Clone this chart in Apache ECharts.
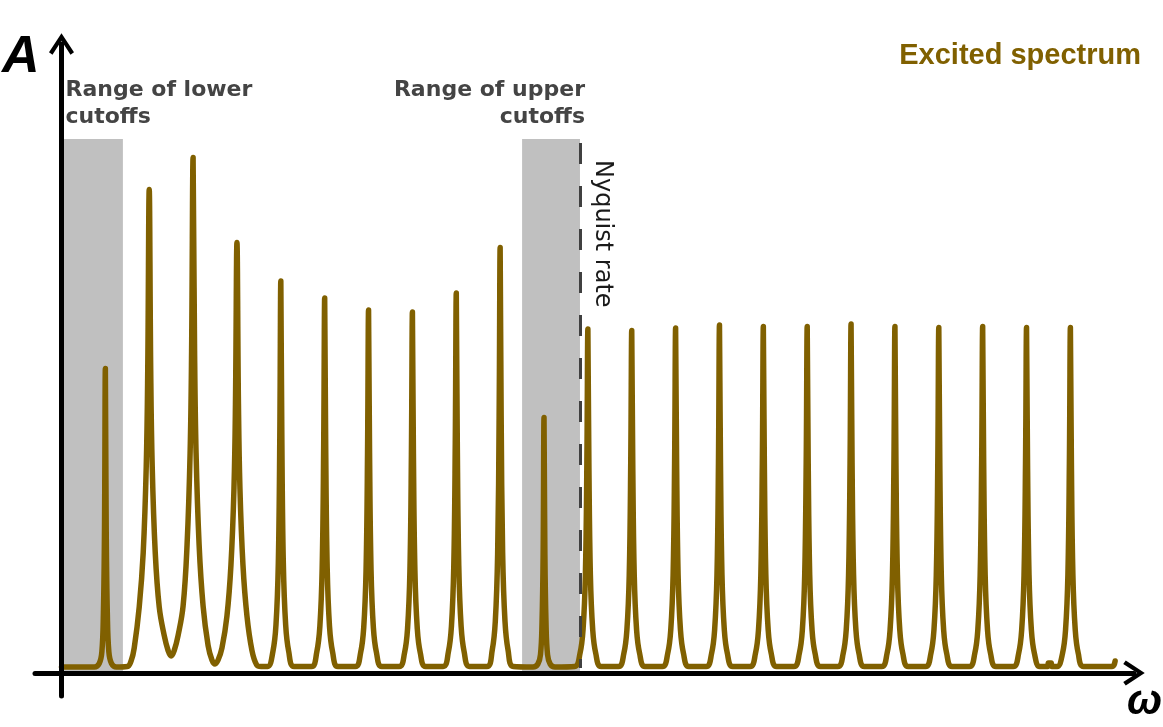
<!DOCTYPE html>
<html>
<head>
    <meta charset="utf-8">
    <title>Excited spectrum</title>
    <script src="https://cdn.jsdelivr.net/npm/echarts@6/dist/echarts.min.js"></script>
</head>
<body style="margin:0;background:#fff;">
    <div id="main" style="width:1163px;height:727px;"></div>
    <script type="text/javascript">
        // omega in units of the line spacing, A in arbitrary units (baseline ~1.2)
        const spectrum = [
            [0, 1.2], [0.75, 1.2],
            // 1 (narrow, inside the lower cutoff band)
            [0.86, 1.9], [0.92, 4.2], [0.955, 11.9], [0.98, 28.1], [1, 60.9], [1.02, 28.1], [1.045, 11.9], [1.08, 4.2], [1.14, 1.9], [1.25, 1.2],
            [1.50, 1.3],
            // 2
            [1.59, 2.5], [1.658, 5.0], [1.772, 13.2], [1.863, 24.1], [1.932, 41.3], [1.966, 60.4], [2, 96.7],
            [2.034, 60.4], [2.068, 41.3], [2.137, 24.1], [2.228, 13.2], [2.342, 7.5], [2.43, 4.5], [2.5, 3.4],
            // 3
            [2.57, 4.5], [2.658, 7.5], [2.772, 13.4], [2.863, 25.7], [2.932, 44.0], [2.966, 64.4], [3, 103.1],
            [3.034, 64.4], [3.068, 44.0], [3.137, 25.7], [3.228, 13.4], [3.342, 5.5], [3.43, 2.6], [3.5, 1.8],
            // 4
            [3.57, 2.6], [3.658, 5.0], [3.772, 11.4], [3.863, 21.6], [3.932, 36.9], [3.966, 53.8], [4, 86.1],
            [4.034, 53.8], [4.068, 36.9], [4.137, 21.6], [4.228, 11.4], [4.342, 4.5], [4.45, 1.6], [4.55, 1.3],
            // 5 - 10
            [4.70, 1.3], [4.82, 4.3], [4.89, 9.7], [4.943, 22.0], [4.977, 47.5], [5, 78.4], [5.023, 47.5], [5.057, 22.0], [5.11, 9.7], [5.18, 4.3], [5.30, 1.3],
            [5.70, 1.3], [5.82, 4.2], [5.89, 9.3], [5.943, 21.1], [5.977, 45.5], [6, 75.0], [6.023, 45.5], [6.057, 21.1], [6.11, 9.3], [6.18, 4.2], [6.30, 1.3],
            [6.70, 1.3], [6.82, 4.1], [6.89, 9.1], [6.943, 20.5], [6.977, 44.0], [7, 72.6], [7.023, 44.0], [7.057, 20.5], [7.11, 9.1], [7.18, 4.1], [7.30, 1.3],
            [7.70, 1.3], [7.82, 4.0], [7.89, 9.0], [7.943, 20.4], [7.977, 43.8], [8, 72.2], [8.023, 43.8], [8.057, 20.4], [8.11, 9.0], [8.18, 4.0], [8.30, 1.3],
            [8.70, 1.3], [8.82, 4.2], [8.89, 9.4], [8.943, 21.4], [8.977, 46.1], [9, 76.0], [9.023, 46.1], [9.057, 21.4], [9.11, 9.4], [9.18, 4.2], [9.30, 1.3],
            [9.70, 1.3], [9.82, 4.6], [9.89, 10.4], [9.943, 23.9], [9.977, 51.5], [10, 85.1], [10.023, 51.5], [10.057, 23.9], [10.11, 10.4], [10.18, 4.6], [10.30, 1.3],
            // 11 (narrow, inside the upper cutoff band)
            [10.75, 1.2], [10.86, 1.8], [10.92, 3.7], [10.955, 10.2], [10.98, 23.7], [11, 51.1], [11.02, 23.7], [11.045, 10.2], [11.08, 3.7], [11.14, 1.8], [11.25, 1.2],
            // 12 - 23 (above the Nyquist rate)
            [11.70, 1.3], [11.82, 3.9], [11.89, 8.7], [11.943, 19.6], [11.977, 42.0], [12, 68.8], [12.023, 42.0], [12.057, 19.6], [12.11, 8.7], [12.18, 3.9], [12.30, 1.3],
            [12.70, 1.3], [12.82, 3.9], [12.89, 8.7], [12.943, 19.6], [12.977, 42.0], [13, 68.5], [13.023, 42.0], [13.057, 19.6], [13.11, 8.7], [13.18, 3.9], [13.30, 1.3],
            [13.70, 1.3], [13.82, 3.9], [13.89, 8.7], [13.943, 19.6], [13.977, 42.0], [14, 69.0], [14.023, 42.0], [14.057, 19.6], [14.11, 8.7], [14.18, 3.9], [14.30, 1.3],
            [14.70, 1.3], [14.82, 3.9], [14.89, 8.7], [14.943, 19.6], [14.977, 42.0], [15, 69.6], [15.023, 42.0], [15.057, 19.6], [15.11, 8.7], [15.18, 3.9], [15.30, 1.3],
            [15.70, 1.3], [15.82, 3.9], [15.89, 8.7], [15.943, 19.6], [15.977, 42.0], [16, 69.3], [16.023, 42.0], [16.057, 19.6], [16.11, 8.7], [16.18, 3.9], [16.30, 1.3],
            [16.70, 1.3], [16.82, 3.9], [16.89, 8.7], [16.943, 19.6], [16.977, 42.0], [17, 69.3], [17.023, 42.0], [17.057, 19.6], [17.11, 8.7], [17.18, 3.9], [17.30, 1.3],
            [17.70, 1.3], [17.82, 3.9], [17.89, 8.7], [17.943, 19.6], [17.977, 42.0], [18, 69.8], [18.023, 42.0], [18.057, 19.6], [18.11, 8.7], [18.18, 3.9], [18.30, 1.3],
            [18.70, 1.3], [18.82, 3.9], [18.89, 8.7], [18.943, 19.6], [18.977, 42.0], [19, 69.3], [19.023, 42.0], [19.057, 19.6], [19.11, 8.7], [19.18, 3.9], [19.30, 1.3],
            [19.70, 1.3], [19.82, 3.9], [19.89, 8.7], [19.943, 19.6], [19.977, 42.0], [20, 69.1], [20.023, 42.0], [20.057, 19.6], [20.11, 8.7], [20.18, 3.9], [20.30, 1.3],
            [20.70, 1.3], [20.82, 3.9], [20.89, 8.7], [20.943, 19.6], [20.977, 42.0], [21, 69.3], [21.023, 42.0], [21.057, 19.6], [21.11, 8.7], [21.18, 3.9], [21.30, 1.3],
            [21.70, 1.3], [21.82, 3.9], [21.89, 8.7], [21.943, 19.6], [21.977, 42.0], [22, 69.1], [22.023, 42.0], [22.057, 19.6], [22.11, 8.7], [22.18, 3.9], [22.30, 1.3],
            [22.48, 1.3], [22.50, 2.0], [22.56, 2.0], [22.58, 1.3],
            [22.70, 1.3], [22.82, 3.9], [22.89, 8.7], [22.943, 19.6], [22.977, 42.0], [23, 69.1], [23.023, 42.0], [23.057, 19.6], [23.11, 8.7], [23.18, 3.9], [23.30, 1.3],
            [23.95, 1.3], [24.02, 2.4]
        ];

        const lowerCutoffs = [0, 1.40];
        const upperCutoffs = [10.50, 11.82];
        const nyquistRate = 11.82;
        const bandTop = 106.8;

        const brown = '#806000';
        // open chevron used as arrow head, pointing up
        const chevron = 'path://M12.5,0 L25,19 L21.5,21.5 L12.5,7.5 L3.5,21.5 L0,19 Z';

        var myChart = echarts.init(document.getElementById('main'));

        var option = {
            animation: false,
            backgroundColor: '#fff',
            title: {
                text: 'Excited spectrum',
                right: 22,
                top: 41,
                padding: 0,
                textStyle: {
                    color: brown,
                    fontFamily: 'Liberation Sans',
                    fontWeight: 'bold',
                    fontSize: 29
                }
            },
            grid: { left: 35, right: 29, top: 44, bottom: 31, outerBoundsMode: 'none' },
            xAxis: {
                type: 'value',
                min: -0.604,
                max: 24.45,
                z: 3,
                name: 'ω',
                nameLocation: 'end',
                nameGap: -7,
                nameTextStyle: {
                    fontFamily: 'Liberation Sans',
                    fontStyle: 'italic',
                    fontWeight: 'bold',
                    fontSize: 42,
                    color: '#000',
                    align: 'left',
                    verticalAlign: 'top',
                    padding: [8, 0, 0, 0]
                },
                axisLine: {
                    onZero: true,
                    symbol: ['none', chevron],
                    symbolSize: [25, 22],
                    lineStyle: { color: '#000', width: 5 }
                },
                axisTick: { show: false },
                axisLabel: { show: false },
                splitLine: { show: false }
            },
            yAxis: {
                type: 'value',
                min: -4.6,
                max: 125.8,
                z: 3,
                name: 'A',
                nameLocation: 'end',
                nameGap: 12,
                nameTextStyle: {
                    fontFamily: 'Liberation Sans',
                    fontStyle: 'italic',
                    fontWeight: 'bold',
                    fontSize: 52,
                    color: '#000',
                    align: 'right',
                    verticalAlign: 'top',
                    padding: [0, 22, 0, 0]
                },
                axisLine: {
                    onZero: true,
                    symbol: ['none', chevron],
                    symbolSize: [25, 22],
                    lineStyle: { color: '#000', width: 5 }
                },
                axisTick: { show: false },
                axisLabel: { show: false },
                splitLine: { show: false }
            },
            series: [{
                name: 'Excited spectrum',
                type: 'line',
                data: spectrum,
                symbol: 'none',
                showSymbol: false,
                smooth: 0.4,
                lineStyle: { color: brown, width: 5.5, join: 'round', cap: 'round' },
                z: 2,
                markArea: {
                    silent: true,
                    itemStyle: { color: '#c0c0c0', opacity: 1 },
                    label: {
                        fontFamily: 'DejaVu Sans',
                        fontWeight: 'bold',
                        fontSize: 22,
                        lineHeight: 27,
                        color: '#444'
                    },
                    data: [
                        [
                            {
                                xAxis: lowerCutoffs[0], yAxis: 0,
                                label: {
                                    formatter: 'Range of lower\ncutoffs',
                                    position: [4, -8],
                                    align: 'left',
                                    verticalAlign: 'bottom'
                                }
                            },
                            { xAxis: lowerCutoffs[1], yAxis: bandTop }
                        ],
                        [
                            {
                                xAxis: upperCutoffs[0], yAxis: 0,
                                label: {
                                    formatter: 'Range of upper\ncutoffs',
                                    position: ['100%', -8],
                                    offset: [5, 0],
                                    align: 'right',
                                    verticalAlign: 'bottom'
                                }
                            },
                            { xAxis: upperCutoffs[1], yAxis: bandTop }
                        ]
                    ]
                },
                markLine: {
                    silent: true,
                    symbol: ['none', 'none'],
                    lineStyle: { color: '#404040', width: 3, type: [21, 22] },
                    label: {
                        show: true,
                        formatter: 'Nyquist rate',
                        position: 'insideStartTop',
                        distance: [17, 10],
                        fontFamily: 'DejaVu Sans',
                        fontSize: 24,
                        color: '#1a1a1a'
                    },
                    data: [
                        [
                            { coord: [nyquistRate, bandTop - 0.8] },
                            { coord: [nyquistRate, 1] }
                        ]
                    ]
                }
            }]
        };

        myChart.setOption(option);
    </script>
</body>
</html>
